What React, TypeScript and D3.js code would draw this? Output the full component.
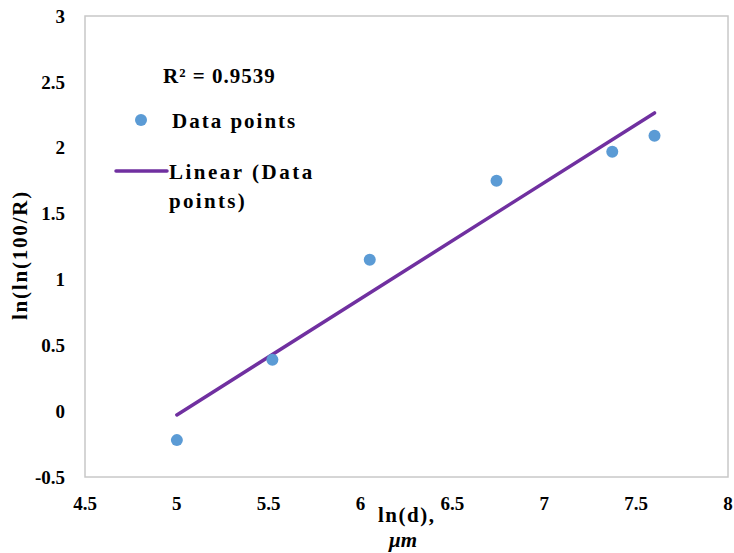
import * as d3 from 'd3';
import React, { useEffect, useRef } from 'react';

// ln(d) values and ln(ln(100/R)) values
const lnD = [5.0, 5.52, 6.05, 6.74, 7.37, 7.6];
const lnLnR = [-0.22, 0.39, 1.15, 1.75, 1.97, 2.09];
const xTicks = [4.5, 5, 5.5, 6, 6.5, 7, 7.5, 8];
const yTicks = [-0.5, 0, 0.5, 1, 1.5, 2, 2.5, 3];
const r2Label = 'R² = 0.9539';

const W = 734;
const H = 553;
const FONT = 'Liberation Serif';

const App = () => {
  const svgRef = useRef<SVGSVGElement>(null);

  useEffect(() => {
    const svg = d3.select(svgRef.current);
    svg.selectAll('*').remove();

    const left = 85, right = 728, top = 16, bottom = 477;

    const x = d3.scaleLinear().domain([4.5, 8]).range([left, right]);
    const y = d3.scaleLinear().domain([-0.5, 3]).range([bottom, top]);

    // plot frame
    svg.append('rect')
      .attr('x', left).attr('y', top)
      .attr('width', right - left).attr('height', bottom - top)
      .attr('fill', 'none')
      .attr('stroke', '#c8c8c8')
      .attr('stroke-width', 1.5);

    // tick labels
    svg.append('g').selectAll('text')
      .data(yTicks)
      .enter().append('text')
      .attr('x', left - 20)
      .attr('y', d => y(d))
      .attr('dy', '0.35em')
      .attr('text-anchor', 'end')
      .attr('font-family', FONT)
      .attr('font-weight', 'bold')
      .attr('font-size', 19)
      .text(d => String(d));

    svg.append('g').selectAll('text')
      .data(xTicks)
      .enter().append('text')
      .attr('x', d => x(d))
      .attr('y', 510)
      .attr('text-anchor', 'middle')
      .attr('font-family', FONT)
      .attr('font-weight', 'bold')
      .attr('font-size', 19)
      .text(d => String(d));

    // linear fit
    const mx = d3.mean(lnD)!;
    const my = d3.mean(lnLnR)!;
    const sxy = d3.sum(lnD, (v, i) => (v - mx) * (lnLnR[i] - my));
    const sxx = d3.sum(lnD, v => (v - mx) ** 2);
    const slope = sxy / sxx;
    const icpt = my - slope * mx;
    const [x0, x1] = d3.extent(lnD) as [number, number];

    svg.append('path')
      .datum([x0, x1])
      .attr('fill', 'none')
      .attr('stroke', '#7030a0')
      .attr('stroke-width', 3.5)
      .attr('stroke-linecap', 'round')
      .attr('d', d3.line<number>().x(d => x(d)).y(d => y(icpt + slope * d)));

    // data points
    svg.append('g').selectAll('circle')
      .data(lnD)
      .enter().append('circle')
      .attr('cx', d => x(d))
      .attr('cy', (d, i) => y(lnLnR[i]))
      .attr('r', 6)
      .attr('fill', '#5b9bd5');

    // legend
    const txt = (tx: number, ty: number, s: string, ls = 1.5) =>
      svg.append('text')
        .attr('x', tx).attr('y', ty)
        .attr('font-family', FONT)
        .attr('font-weight', 'bold')
        .attr('font-size', 21)
        .attr('letter-spacing', ls)
        .text(s);

    txt(163, 83, r2Label, 1);
    svg.append('circle').attr('cx', 141).attr('cy', 120).attr('r', 6).attr('fill', '#5b9bd5');
    txt(172, 128, 'Data points', 2);
    svg.append('line')
      .attr('x1', 116).attr('x2', 167).attr('y1', 171).attr('y2', 171)
      .attr('stroke', '#7030a0').attr('stroke-width', 3.5).attr('stroke-linecap', 'round');
    txt(169, 179, 'Linear (Data', 2.5);
    txt(169, 208, 'points)', 2.3);

    // axis titles
    svg.append('text')
      .attr('transform', 'translate(27,255) rotate(-90)')
      .attr('text-anchor', 'middle')
      .attr('font-family', FONT)
      .attr('font-weight', 'bold')
      .attr('font-size', 21)
      .attr('letter-spacing', 1.8)
      .text('ln(ln(100/R)');

    svg.append('text')
      .attr('x', 378).attr('y', 522)
      .attr('font-family', FONT)
      .attr('font-weight', 'bold')
      .attr('font-size', 21)
      .attr('letter-spacing', 1.5)
      .text('ln(d),');

    svg.append('text')
      .attr('x', 389).attr('y', 547)
      .attr('font-family', FONT)
      .attr('font-weight', 'bold')
      .attr('font-style', 'italic')
      .attr('font-size', 21)
      .text('μm');
  }, []);

  return (
    <svg
      ref={svgRef}
      width={W}
      height={H}
      style={{ position: 'absolute', left: 0, top: 0, background: '#fff' }}
    />
  );
};

export default App;
